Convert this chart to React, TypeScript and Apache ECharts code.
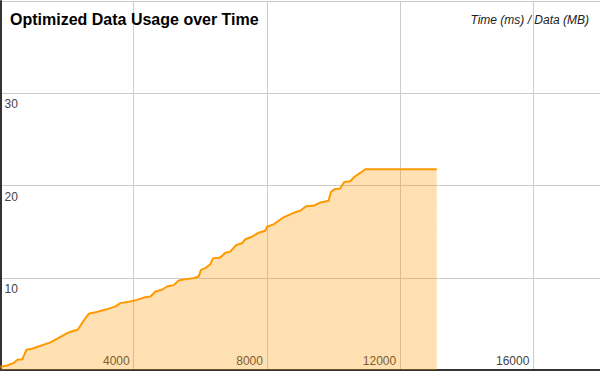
import React, { useEffect, useRef } from "react";
import * as echarts from "echarts";

const timeMs: number[] = [
  0, 200, 400, 520, 650, 780, 950, 1100, 1300, 1500, 1650, 1800, 2000, 2150, 2320, 2450,
  2650, 2850, 3050, 3250, 3450, 3600, 3850, 4100, 4300, 4500, 4650, 4850, 5000, 5200,
  5350, 5550, 5800, 5950, 6020, 6150, 6300, 6380, 6600, 6750, 6900, 7080, 7250, 7350,
  7550, 7750, 7950, 8000, 8200, 8350, 8500, 8650, 8800, 9000, 9180, 9400, 9580, 9850,
  9920, 10020, 10200, 10320, 10500, 10650, 10800, 10950, 13100,
];
const dataMB: number[] = [
  0.35, 0.49, 0.78, 1.13, 1.13, 2.2, 2.3, 2.5, 2.75, 3.0, 3.3, 3.6, 4.0, 4.2, 4.37, 5.1,
  6.1, 6.25, 6.45, 6.65, 6.9, 7.25, 7.4, 7.6, 7.85, 7.97, 8.5, 8.7, 9.05, 9.2,
  9.7, 9.85, 9.96, 10.13, 10.85, 11.04, 11.47, 12.1, 12.2, 12.7, 12.83, 13.55, 13.74, 14.17,
  14.45, 14.88, 15.1, 15.53, 15.79, 16.18, 16.54, 16.79, 17.04, 17.26, 17.76, 17.8, 18.12, 18.34,
  19.3, 19.6, 19.68, 20.39, 20.46, 21.0, 21.36, 21.76, 21.76,
];

const titleText = "Optimized Data Usage over Time";
const axesText = "Time (ms) / Data (MB)";

const FONT = "'Liberation Sans', Arial, sans-serif";

export default function App() {
  const ref = useRef<HTMLDivElement>(null);
  useEffect(() => {
    if (!ref.current) return;
    const chart = echarts.init(ref.current, undefined, { renderer: "svg" });
    const seriesData = timeMs.map((t, i) => [t, dataMB[i]]);
    chart.setOption({
      animation: false,
      backgroundColor: "#ffffff",
      textStyle: { fontFamily: FONT },
      title: [
        {
          text: titleText,
          left: 10,
          top: 11,
          padding: 0,
          textStyle: { fontFamily: FONT, fontSize: 16, fontWeight: "bold", color: "#000" },
        },
        {
          text: axesText,
          right: 11,
          top: 14,
          padding: 0,
          textStyle: { fontFamily: FONT, fontSize: 12, fontStyle: "italic", fontWeight: "normal", color: "#222" },
        },
      ],
      grid: { left: 0, right: 0, top: 1, bottom: 1, containLabel: false },
      xAxis: {
        type: "value",
        min: 0,
        max: 18000,
        interval: 4000,
        axisLine: { show: true, lineStyle: { color: "#333", width: 2 } },
        axisTick: { show: false },
        splitLine: { show: true, lineStyle: { color: "#cccccc", width: 1 } },
        axisLabel: {
          inside: true,
          margin: 3,
          align: "right",
          padding: [0, 4, 0, 0],
          showMinLabel: false,
          showMaxLabel: false,
          formatter: (v: number) => String(v),
          color: "#444",
          fontSize: 12,
          fontFamily: FONT,
          textBorderColor: "#fff",
          textBorderWidth: 3,
        },
      },
      yAxis: {
        type: "value",
        min: 0,
        max: 40,
        interval: 10,
        axisLine: { show: true, lineStyle: { color: "#333", width: 2 } },
        axisTick: { show: false },
        splitLine: { show: true, lineStyle: { color: "#cccccc", width: 1 } },
        axisLabel: {
          inside: true,
          margin: 4,
          verticalAlign: "top",
          padding: [5, 0, 0, 0],
          showMinLabel: false,
          showMaxLabel: false,
          formatter: (v: number) => String(v),
          color: "#444",
          fontSize: 12,
          fontFamily: FONT,
          textBorderColor: "#fff",
          textBorderWidth: 3,
        },
      },
      series: [
        {
          type: "line",
          data: seriesData,
          symbol: "none",
          lineStyle: { color: "#ff9900", width: 2 },
          itemStyle: { color: "#ff9900" },
          areaStyle: { color: "#ff9900", opacity: 0.3 },
        },
      ],
    });
    return () => chart.dispose();
  }, []);
  return (
    <div
      ref={ref}
      style={{ position: "fixed", left: 0, top: 0, width: 600, height: 371 }}
    />
  );
}
